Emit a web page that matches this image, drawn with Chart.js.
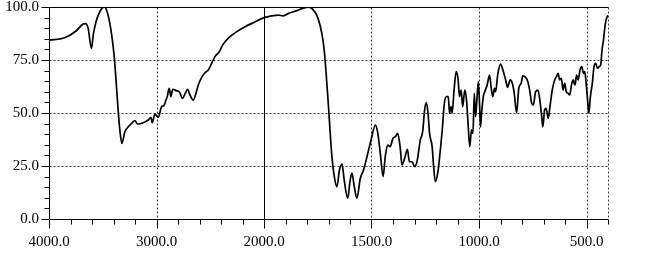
<!DOCTYPE html>
<html>
<head>
<meta charset="utf-8">
<script src="https://cdn.jsdelivr.net/npm/chart.js@4.4.1/dist/chart.umd.min.js"></script>
<style>
  html, body { margin: 0; padding: 0; background: #fff; }
  #wrap { width: 647px; height: 255px; position: relative; }
</style>
</head>
<body>
<div id="wrap"><canvas id="spectrum"></canvas></div>
<script>
// Spectrum: wavenumber (cm-1) and transmittance (%).
var wavenumbers = [
  4000, 3854, 3745, 3683, 3661, 3636, 3605, 3586, 3558, 3518, 3487, 3465, 3434, 3403,
  3388, 3372, 3357, 3341, 3322, 3294, 3263, 3226, 3201, 3176, 3124, 3077, 3052, 3040,
  3015, 2984, 2952, 2931, 2912, 2900, 2882, 2866, 2850, 2813, 2788, 2757, 2735, 2710,
  2689, 2658, 2633, 2611, 2580, 2549, 2518, 2487, 2456, 2416, 2393, 2362, 2316, 2253,
  2176, 2099, 2000, 1933, 1912, 1886, 1847, 1816, 1793, 1773, 1750, 1731, 1720, 1711,
  1700, 1692, 1684, 1673, 1661, 1649, 1637, 1627, 1611, 1599, 1591, 1580, 1568, 1552,
  1537, 1521, 1502, 1482, 1472, 1459, 1446, 1436, 1425, 1413, 1400, 1389, 1378, 1367,
  1358, 1346, 1333, 1324, 1311, 1299, 1287, 1273, 1262, 1253, 1245, 1237, 1230, 1218,
  1211, 1203, 1192, 1183, 1171, 1161, 1151, 1143, 1137, 1130, 1125, 1116, 1106, 1097,
  1091, 1083, 1076, 1066, 1058, 1050, 1043, 1035, 1028, 1022, 1016, 1010, 1003, 997,
  993, 988, 980, 973, 962, 951, 943, 936, 928, 923, 912, 900, 889, 876,
  867, 855, 845, 836, 825, 815, 804, 796, 783, 773, 763, 755, 747, 737,
  726, 717, 709, 703, 695, 688, 678, 670, 659, 648, 638, 632, 625, 617,
  609, 601, 594, 586, 578, 570, 562, 554, 546, 539, 530, 522, 514, 508,
  501, 495, 489, 482, 473, 465, 457, 449, 441, 434, 428, 421, 415, 409,
  402, 400
];
var transmittance = [
  84.4, 85.5, 88.8, 92.0, 92.2, 90.0, 80.5, 87.6, 93.9, 98.6, 100.0, 98.6, 92.3, 81.3,
  73.4, 62.4, 51.4, 42.0, 35.7, 41.2, 43.5, 45.4, 46.4, 44.8, 45.4, 46.7, 48.0, 45.4,
  49.5, 48.0, 53.0, 53.5, 56.1, 57.7, 61.6, 57.7, 61.2, 60.5, 60.0, 56.9, 59.0, 61.2,
  58.5, 56.1, 59.3, 63.2, 66.8, 69.0, 70.3, 73.4, 76.6, 78.9, 81.3, 83.6, 86.0, 88.4,
  90.7, 92.6, 95.0, 96.2, 95.8, 97.0, 98.3, 99.5, 99.9, 98.9, 95.0, 87.6, 79.7, 68.7,
  53.0, 40.4, 29.4, 20.0, 15.2, 23.1, 25.9, 18.4, 9.8, 18.4, 21.6, 15.2, 9.8, 19.2,
  23.1, 29.4, 37.3, 44.3, 41.2, 31.0, 20.0, 29.4, 34.9, 34.1, 38.1, 38.8, 40.4, 34.1,
  25.5, 28.6, 32.9, 27.0, 27.0, 24.7, 27.8, 37.3, 41.2, 51.4, 54.9, 49.9, 40.4, 34.1,
  24.7, 17.6, 21.6, 29.4, 42.0, 54.6, 57.7, 57.7, 49.9, 53.0, 49.9, 60.8, 69.5, 65.6,
  57.7, 60.8, 53.0, 60.8, 56.1, 43.5, 34.1, 42.0, 40.4, 59.3, 48.3, 56.1, 64.8, 53.0,
  43.5, 49.9, 57.7, 60.0, 63.2, 67.9, 61.6, 57.7, 61.6, 60.0, 68.7, 73.1, 70.3, 65.6,
  62.1, 65.6, 64.0, 59.3, 50.1, 61.6, 64.0, 67.5, 66.8, 64.8, 60.0, 54.6, 53.8, 60.0,
  60.8, 56.1, 49.0, 43.5, 51.4, 52.2, 47.5, 53.0, 61.0, 65.6, 67.5, 68.7, 65.6, 66.4,
  60.8, 64.0, 60.0, 59.3, 58.5, 63.2, 65.6, 63.2, 67.9, 65.6, 70.3, 71.9, 68.7, 69.5,
  63.2, 56.1, 49.9, 57.7, 64.0, 71.9, 73.4, 71.1, 71.9, 72.6, 79.7, 84.4, 90.0, 93.9,
  95.8, 96.0
];

// Axis labels.
var xTickValues = [4000, 3000, 2000, 1500, 1000, 500];
var yTickValues = [0, 25, 50, 75, 100];

/**
 * @description Wavenumber -> position on the axis. The scale doubles below 2000.
 */
function toPos(w) {
  return w >= 2000 ? (4000 - w) / 1000 : 2 + (2000 - w) / 500;
}

/**
 * @description Position on the axis -> wavenumber.
 */
function toWave(u) {
  return u <= 2 ? 4000 - u * 1000 : 2000 - (u - 2) * 500;
}

function crisp(v) {
  return Math.round(v) + 0.5;
}

// Minor tick marks: every 200 above 2000, every 100 below.
var xMinorTicks = [];
for (var w = 4000; w > 2000; w -= 200) xMinorTicks.push(w);
for (w = 2000; w >= 400; w -= 100) xMinorTicks.push(w);
var yMinorTicks = [];
for (var t = 0; t <= 100; t += 5) yMinorTicks.push(t);

var framePlugin = {
  id: 'frame',
  beforeDatasetsDraw: function (chart) {
    var ctx = chart.ctx;
    var area = chart.chartArea;
    var xs = chart.scales.x;
    var ys = chart.scales.y;
    var left = crisp(area.left);
    var right = crisp(area.right);
    var top = crisp(area.top);
    var bottom = crisp(area.bottom);

    ctx.save();
    ctx.lineWidth = 1;

    // Dotted grid.
    ctx.strokeStyle = '#3a3a3a';
    ctx.setLineDash([2, 2]);
    ctx.beginPath();
    xTickValues.concat([400]).forEach(function (w) {
      if (w === 4000 || w === 2000) return;
      var px = crisp(xs.getPixelForValue(toPos(w)));
      ctx.moveTo(px, top);
      ctx.lineTo(px, bottom);
    });
    yTickValues.forEach(function (v) {
      if (v === 0 || v === 100) return;
      var py = crisp(ys.getPixelForValue(v));
      ctx.moveTo(left, py);
      ctx.lineTo(right, py);
    });
    ctx.stroke();

    // Solid frame and the break line at 2000.
    ctx.setLineDash([]);
    ctx.strokeStyle = '#000';
    ctx.beginPath();
    var p2000 = crisp(xs.getPixelForValue(toPos(2000)));
    ctx.moveTo(p2000, top);
    ctx.lineTo(p2000, bottom);
    ctx.moveTo(left, top);
    ctx.lineTo(right, top);
    ctx.moveTo(left, top);
    ctx.lineTo(left, bottom);
    ctx.moveTo(left, bottom);
    ctx.lineTo(right, bottom);

    // Tick marks.
    xMinorTicks.forEach(function (w) {
      var px = crisp(xs.getPixelForValue(toPos(w)));
      var len = xTickValues.indexOf(w) >= 0 ? 9 : 5;
      ctx.moveTo(px, bottom);
      ctx.lineTo(px, bottom + len);
    });
    yMinorTicks.forEach(function (v) {
      var py = crisp(ys.getPixelForValue(v));
      var len = yTickValues.indexOf(v) >= 0 ? 8 : 5;
      ctx.moveTo(left, py);
      ctx.lineTo(left - len, py);
    });
    ctx.stroke();
    ctx.restore();
  }
};

var points = wavenumbers.map(function (w, i) {
  return { x: toPos(w), y: transmittance[i] };
});

var labelFont = { family: '"Liberation Serif", "DejaVu Serif", serif', size: 15, lineHeight: 0.9 };

new Chart(document.getElementById('spectrum'), {
  type: 'line',
  data: {
    datasets: [{
      data: points,
      borderColor: '#000',
      borderWidth: 1.7,
      pointRadius: 0,
      fill: false,
      cubicInterpolationMode: 'monotone'
    }]
  },
  options: {
    responsive: true,
    maintainAspectRatio: false,
    animation: false,
    events: [],
    layout: { padding: { top: 7, right: 39, left: 0, bottom: 0 } },
    plugins: {
      legend: { display: false },
      tooltip: { enabled: false }
    },
    scales: {
      x: {
        type: 'linear',
        min: 0,
        max: toPos(400),
        grid: { display: false, drawTicks: false },
        border: { display: false },
        afterBuildTicks: function (scale) {
          scale.ticks = xTickValues.map(function (w) { return { value: toPos(w) }; });
        },
        afterFit: function (scale) {
          scale.height = 36;
          scale.paddingLeft = 0;
          scale.paddingRight = 0;
        },
        ticks: {
          autoSkip: false,
          maxRotation: 0,
          padding: 16,
          color: '#000',
          font: labelFont,
          callback: function (value) { return toWave(value).toFixed(1); }
        }
      },
      y: {
        min: 0,
        max: 100,
        grid: { display: false, drawTicks: false },
        border: { display: false },
        afterBuildTicks: function (scale) {
          scale.ticks = yTickValues.map(function (v) { return { value: v }; });
        },
        afterFit: function (scale) {
          scale.width = 49;
          scale.paddingTop = 0;
          scale.paddingBottom = 0;
        },
        ticks: {
          padding: 10,
          color: '#000',
          font: labelFont,
          callback: function (value) { return value.toFixed(1); }
        }
      }
    }
  },
  plugins: [framePlugin]
});
</script>
</body>
</html>
